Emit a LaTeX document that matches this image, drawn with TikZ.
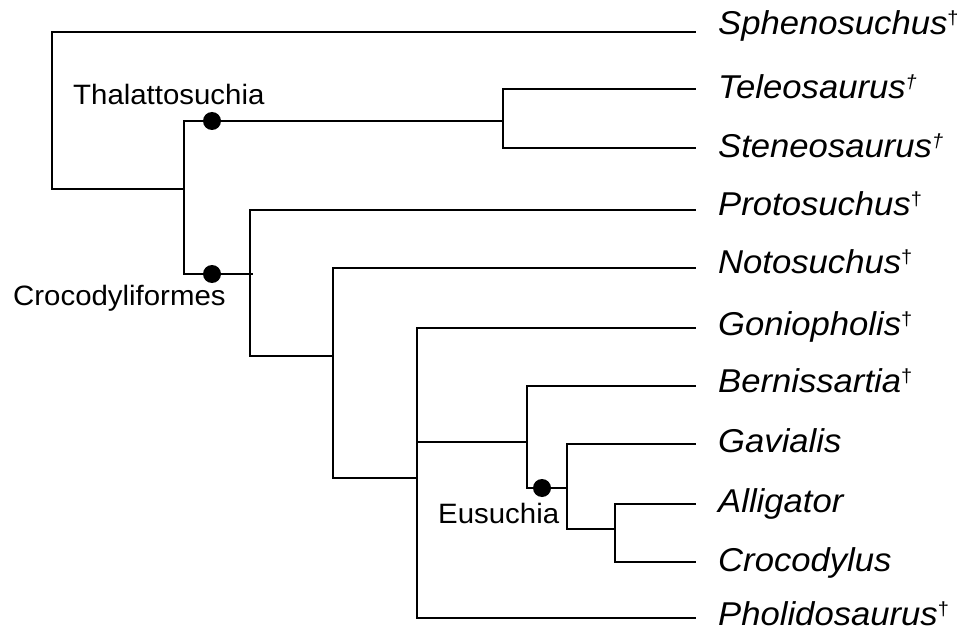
\documentclass[tikz,border=0pt]{standalone}
\usepackage{fontspec}
\setmainfont{Liberation Sans}[FakeStretch=1.05]
\newcommand{\dg}{{\fontsize{19}{19}\selectfont\raisebox{10pt}{\upshape †}}}
\newcommand{\dgi}{{\fontsize{19}{19}\selectfont\raisebox{10pt}{\itshape †}}}
\begin{document}
\begin{tikzpicture}[x=1pt,y=-1pt,
  br/.style={line width=2.2pt, line cap=rect},
  thinbr/.style={line width=1.3pt, line cap=rect},
  taxon/.style={anchor=base west, inner sep=0pt, font=\fontsize{33}{33}\selectfont\itshape},
  clade/.style={anchor=base west, inner sep=0pt, font=\fontsize{28}{28}\selectfont},
  dot/.style={circle, fill=black, inner sep=0pt, minimum size=18pt}]
\useasboundingbox (0,0) rectangle (972,631);
% tip line ends
\coordinate (tSph) at (695,32);
\coordinate (tTel) at (695,89);
\coordinate (tStn) at (695,148);
\coordinate (tPro) at (695,210);
\coordinate (tNot) at (695,268);
\coordinate (tGon) at (695,328);
\coordinate (tBer) at (695,386);
\coordinate (tGav) at (695,444);
\coordinate (tAll) at (695,504);
\coordinate (tCro) at (695,562);
\coordinate (tPho) at (695,618);
% internal points
\coordinate (r) at (52,189);
\coordinate (a) at (184,189);
\coordinate (th) at (503,121);
\coordinate (thTop) at (503,89);
\coordinate (cr) at (252,274);
\coordinate (c2) at (250,356);
\coordinate (n3c) at (333,478);
\coordinate (n4b) at (417,478);
\coordinate (n4m) at (417,442);
\coordinate (n4bot) at (417,618);
\coordinate (n5m) at (527,442);
\coordinate (n5top) at (527,386);
\coordinate (eu) at (567,488);
\coordinate (n6b) at (567,529);
\coordinate (n7m) at (615,529);
\coordinate (n7b) at (615,562);
% branches
\draw[br] (tSph) -| (r) -- (a);
\draw[br] (th) -| (a) |- (cr);
\draw[thinbr] (tTel) -- (thTop);
\draw[br] (tStn) -| (thTop);
\draw[thinbr] (tPro) -| (c2);
\draw[br] (c2) -- (333,356);
\draw[br] (tNot) -| (n3c) -- (n4b);
\draw[br] (tGon) -| (n4bot) -- (tPho);
\draw[br] (n4m) -- (n5m);
\draw[thinbr] (tBer) -- (n5top);
\draw[br] (n5top) |- (eu);
\draw[br] (tGav) -| (n6b) -- (n7m);
\draw[br] (tAll) -| (n7b) -- (tCro);
% clade dots
\node[dot] (dThal) at (212,121) {};
\node[dot] (dCroc) at (212,274) {};
\node[dot] (dEus) at (542,488) {};
% clade labels
\node[clade] (lThal) at (73,105) {Thalattosuchia};
\node[clade] (lCroc) at (13,305) {Crocodyliformes};
\node[clade] (lEus) at (438,523) {Eusuchia};
% taxa
\node[taxon] (Sph) at (718,35) {Sphenosuchus\dg};
\node[taxon] (Tel) at (718,99) {Teleosaurus\dgi};
\node[taxon] (Stn) at (718,158) {Steneosaurus\dgi};
\node[taxon] (Pro) at (718,216) {Protosuchus\dg};
\node[taxon] (Not) at (718,273) {Notosuchus\dg};
\node[taxon] (Gon) at (718,335) {Goniopholis\dg};
\node[taxon] (Ber) at (718,392) {Bernissartia\dg};
\node[taxon] (Gav) at (718,452) {Gavialis};
\node[taxon] (All) at (718,512) {Alligator};
\node[taxon] (Cro) at (718,571) {Crocodylus};
\node[taxon] (Pho) at (718,625) {Pholidosaurus\dg};
\end{tikzpicture}
\end{document}
